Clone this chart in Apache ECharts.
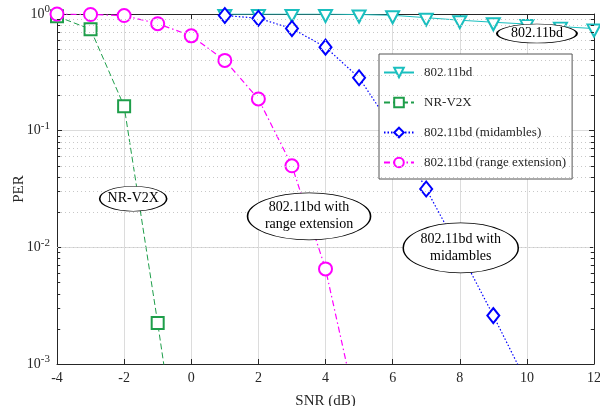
<!DOCTYPE html>
<html>
<head>
<meta charset="utf-8">
<script src="https://cdn.jsdelivr.net/npm/echarts@6/dist/echarts.min.js"></script>
<style>html,body{margin:0;padding:0;background:#fff}#c{width:600px;height:406px}</style>
</head>
<body>
<div id="c"></div>
<script>
// ---- data ----
const xTicks = [-4, -2, 0, 2, 4, 6, 8, 10, 12];
const yDecades = [0.001, 0.01, 0.1, 1];

const snrBd = [1, 2, 3, 4, 5, 6, 7, 8, 9, 10, 11, 12];
const perBd = [1.0, 1.0, 1.0, 1.0, 0.99, 0.975, 0.93, 0.885, 0.85, 0.82, 0.78, 0.75];

const snrNR = [-4, -3, -2, -1, 0];
const perNR = [0.955, 0.74, 0.162, 0.00225, 0.000025];

const snrMid = [1, 2, 3, 4, 5, 6, 7, 8, 9, 10];
const perMid = [0.97, 0.92, 0.75, 0.52, 0.284, 0.105, 0.0316, 0.0093, 0.0026, 0.00069];

const snrRE = [-4, -3, -2, -1, 0, 1, 2, 3, 4, 5];
const perRE = [1.0, 0.99, 0.97, 0.826, 0.65, 0.40, 0.187, 0.050, 0.00653, 0.00033];

const seriesNames = ['802.11bd', 'NR-V2X', '802.11bd (midambles)', '802.11bd (range extension)'];

const annotations = [
  { text: '802.11bd', x: 10.3, y: 0.68, w: 80, h: 19 },
  { text: 'NR-V2X', x: -1.73, y: 0.0261, w: 67, h: 25 },
  { text: '802.11bd with\nrange extension', x: 3.51, y: 0.01844, w: 123, h: 47 },
  { text: '802.11bd with\nmidambles', x: 8.03, y: 0.00989, w: 115, h: 50 }
];

// ---- helpers ----
const FONT = 'Liberation Serif';
const AX = '#262626';
const xMin = xTicks[0], xMax = xTicks[xTicks.length - 1];
const minorVals = [];
yDecades.slice(0, -1).forEach(d => { for (let k = 2; k <= 9; k++) minorVals.push(+(d * k).toPrecision(3)); });
const zip = (xs, ys) => xs.map((x, i) => [x, ys[i]]);

const tickLen = (xMax - xMin) * 0.006;
const minorTickSegs = [];
minorVals.forEach(v => {
  minorTickSegs.push([{ coord: [xMin, v] }, { coord: [xMin + tickLen, v] }]);
  minorTickSegs.push([{ coord: [xMax - tickLen, v] }, { coord: [xMax, v] }]);
});

const yLabel = v => {
  const e = Math.round(Math.log10(v));
  return '{b|10}{s|' + e + '}';
};

const axisLineStyle = { show: true, onZero: false, lineStyle: { color: AX, width: 1 } };

const chart = echarts.init(document.getElementById('c'), null, { renderer: 'canvas' });
chart.setOption({
  animation: false,
  backgroundColor: '#fff',
  grid: { left: 57, right: 6, top: 14, bottom: 42, containLabel: false, outerBoundsMode: 'none' },
  xAxis: [{
    type: 'value', position: 'bottom', min: xMin, max: xMax, interval: 2,
    axisLine: axisLineStyle,
    axisTick: { show: true, inside: true, length: 5, lineStyle: { color: AX } },
    splitLine: { show: true, lineStyle: { color: '#dcdcdc', width: 1 } },
    axisLabel: { fontFamily: FONT, fontSize: 14, color: AX, margin: 7 },
    name: 'SNR (dB)', nameLocation: 'middle', nameGap: 30, nameMoveOverlap: false,
    nameTextStyle: { fontFamily: FONT, fontSize: 15, color: AX }
  }, {
    type: 'value', position: 'top', min: xMin, max: xMax, interval: 2,
    axisLine: axisLineStyle,
    axisTick: { show: true, inside: true, length: 5, lineStyle: { color: AX } },
    splitLine: { show: false }, axisLabel: { show: false }
  }],
  yAxis: [{
    type: 'log', logBase: 10, min: yDecades[0], max: yDecades[yDecades.length - 1], position: 'left',
    axisLine: axisLineStyle,
    axisTick: { show: true, inside: true, length: 5, lineStyle: { color: AX } },
    splitLine: { show: true, lineStyle: { color: '#dcdcdc', width: 1 } },
    axisLabel: {
      formatter: yLabel, margin: 7,
      rich: {
        b: { fontFamily: FONT, fontSize: 14, color: AX },
        s: { fontFamily: FONT, fontSize: 11, color: AX, padding: [0, 0, 9, 0] }
      }
    },
    name: 'PER', nameLocation: 'middle', nameGap: 30, nameMoveOverlap: false,
    nameTextStyle: { fontFamily: FONT, fontSize: 15, color: AX }
  }, {
    type: 'log', logBase: 10, min: yDecades[0], max: yDecades[yDecades.length - 1], position: 'right',
    axisLine: axisLineStyle,
    axisTick: { show: true, inside: true, length: 5, lineStyle: { color: AX } },
    splitLine: { show: false }, axisLabel: { show: false }
  }],
  legend: {
    data: seriesNames, orient: 'vertical', left: 379, top: 54,
    backgroundColor: '#fff', borderColor: '#555', borderWidth: 1,
    padding: [12, 6, 10, 4], itemWidth: 30, itemHeight: 12, itemGap: 17,
    textStyle: { fontFamily: FONT, fontSize: 13, color: AX, padding: [0, 0, 0, 5] }
  },
  series: [
    {
      name: '_minorgrid', type: 'line', data: [], z: 1, silent: true,
      markLine: {
        silent: true, symbol: 'none', label: { show: false }, animation: false,
        lineStyle: { color: '#c8c8c8', type: [1, 3], width: 1 },
        data: minorVals.map(v => ({ yAxis: v }))
      }
    },
    {
      name: '_minorticks', type: 'line', data: [], z: 1, silent: true,
      markLine: {
        silent: true, symbol: 'none', label: { show: false }, animation: false,
        lineStyle: { color: AX, type: 'solid', width: 1 },
        data: minorTickSegs
      }
    },
    {
      name: seriesNames[0], type: 'line', data: zip(snrBd, perBd),
      symbol: 'emptyTriangle', symbolRotate: 180, symbolSize: [13, 12], symbolOffset: [0, 2],
      itemStyle: { color: '#1ABFBF', borderWidth: 1 },
      lineStyle: { color: '#1ABFBF', width: 1, type: 'solid' }
    },
    {
      name: seriesNames[1], type: 'line', data: zip(snrNR, perNR),
      symbol: 'emptyRect', symbolSize: 12,
      itemStyle: { color: '#1E9E4A', borderWidth: 1 },
      lineStyle: { color: '#1E9E4A', width: 1, type: [6, 3] }
    },
    {
      name: seriesNames[2], type: 'line', data: zip(snrMid, perMid),
      symbol: 'emptyDiamond', symbolSize: [12, 15],
      itemStyle: { color: '#0000FF', borderWidth: 1.2 },
      lineStyle: { color: '#0000FF', width: 1.2, type: [1.5, 2] }
    },
    {
      name: seriesNames[3], type: 'line', data: zip(snrRE, perRE),
      symbol: 'emptyCircle', symbolSize: 13,
      itemStyle: { color: '#FF00FF', borderWidth: 1 },
      lineStyle: { color: '#FF00FF', width: 1.2, type: [6, 3, 1.5, 3] }
    },
    {
      name: '_annotations', type: 'line', data: [], z: 10, silent: true,
      markPoint: {
        silent: true, animation: false,
        data: annotations.map(a => ({
          coord: [a.x, a.y], symbol: 'circle', symbolSize: [a.w, a.h],
          itemStyle: { color: '#fff', borderColor: '#000', borderWidth: 1 },
          label: { show: true, position: 'inside', formatter: a.text, fontFamily: FONT, fontSize: 14, lineHeight: 17, color: '#000' }
        }))
      }
    }
  ]
});
</script>
</body>
</html>
